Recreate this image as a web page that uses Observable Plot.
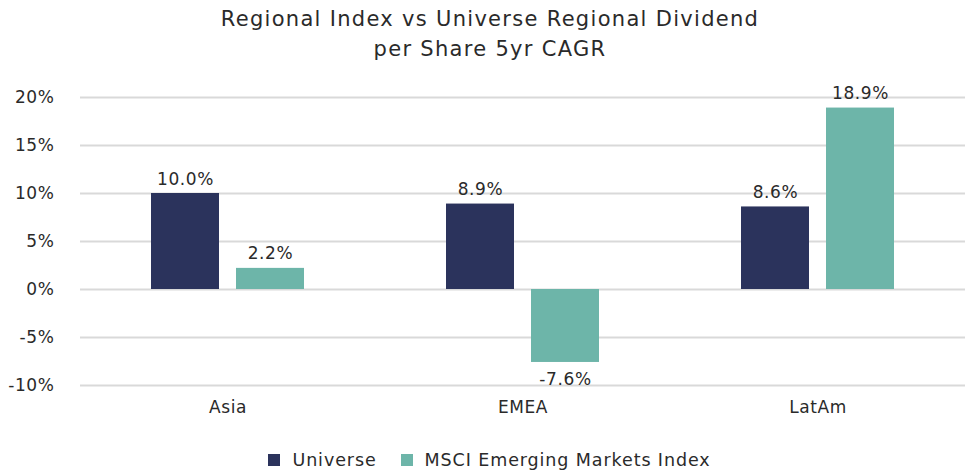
<!DOCTYPE html>
<html>
<head>
<meta charset="utf-8">
<script src="https://cdn.jsdelivr.net/npm/d3@7"></script>
<script src="https://cdn.jsdelivr.net/npm/@observablehq/plot@0.6"></script>
<style>
  html, body { margin: 0; padding: 0; background: #fff; }
  body { width: 967px; font-family: "DejaVu Sans", sans-serif; color: #2a2a2a; }
  #title { height: 70px; box-sizing: border-box; padding-top: 4px; padding-left: 13px; text-align: center; font-size: 21px; line-height: 30px; font-weight: 400; letter-spacing: 1.3px; }
  #legend { height: 30px; padding-left: 12px; display: flex; justify-content: center; align-items: center; font-size: 17.5px; letter-spacing: 0.9px; }
  .sw { display: inline-block; width: 12px; height: 12px; margin-right: 12px; }
  .item { display: flex; align-items: center; margin: 0 12px; }
</style>
</head>
<body>
<div id="title">Regional Index vs Universe Regional Dividend<br>per Share 5yr CAGR</div>
<div id="chart"></div>
<div id="legend"></div>
<script>
const regions = ["Asia", "EMEA", "LatAm"];
const seriesNames = ["Universe", "MSCI Emerging Markets Index"];
const universeValues = [10.0, 8.9, 8.6];
const msciValues = [2.2, -7.6, 18.9];
const yTicks = [-10, -5, 0, 5, 10, 15, 20];
const colors = ["#2b335c", "#6db5a9"];

const data = [];
regions.forEach((r, i) => {
  data.push({region: r, series: seriesNames[0], value: universeValues[i]});
  data.push({region: r, series: seriesNames[1], value: msciValues[i]});
});

const fmt = v => v.toFixed(1) + "%";

const chart = Plot.plot({
  width: 967,
  height: 375,
  marginTop: 27,
  marginBottom: 60,
  marginLeft: 79,
  marginRight: 1,
  style: {fontFamily: "'DejaVu Sans', sans-serif", fontSize: "17px", letterSpacing: "0.6px", color: "#2a2a2a", background: "#fff"},
  fx: {domain: regions, padding: 0, label: null, axis: "bottom", tickSize: 0, tickPadding: 15},
  x: {domain: seriesNames, paddingInner: 0.2, paddingOuter: 0.83, axis: null},
  y: {domain: [-10, 20], ticks: yTicks, label: null},
  color: {domain: seriesNames, range: colors},
  marks: [
    Plot.gridY(yTicks, {stroke: "#d9d9d9", strokeOpacity: 1, strokeWidth: 2}),
    Plot.axisY(yTicks, {tickSize: 0, tickPadding: 26, tickFormat: d => d + "%", fontSize: 17, label: null}),
    Plot.barY(data, {fx: "region", x: "series", y: "value", fill: "series"}),
    Plot.text(data.filter(d => d.value >= 0), {fx: "region", x: "series", y: "value", text: d => fmt(d.value), lineAnchor: "bottom", dy: -9, fontSize: 17, fill: "#2a2a2a"}),
    Plot.text(data.filter(d => d.value < 0), {fx: "region", x: "series", y: "value", text: d => fmt(d.value), lineAnchor: "top", dy: 10, fontSize: 17, fill: "#2a2a2a"})
  ]
});
document.getElementById("chart").appendChild(chart);

const legend = document.getElementById("legend");
seriesNames.forEach((s, i) => {
  const item = document.createElement("div");
  item.className = "item";
  const sw = document.createElement("span");
  sw.className = "sw";
  sw.style.background = colors[i];
  item.appendChild(sw);
  item.appendChild(document.createTextNode(s));
  legend.appendChild(item);
});
</script>
</body>
</html>
